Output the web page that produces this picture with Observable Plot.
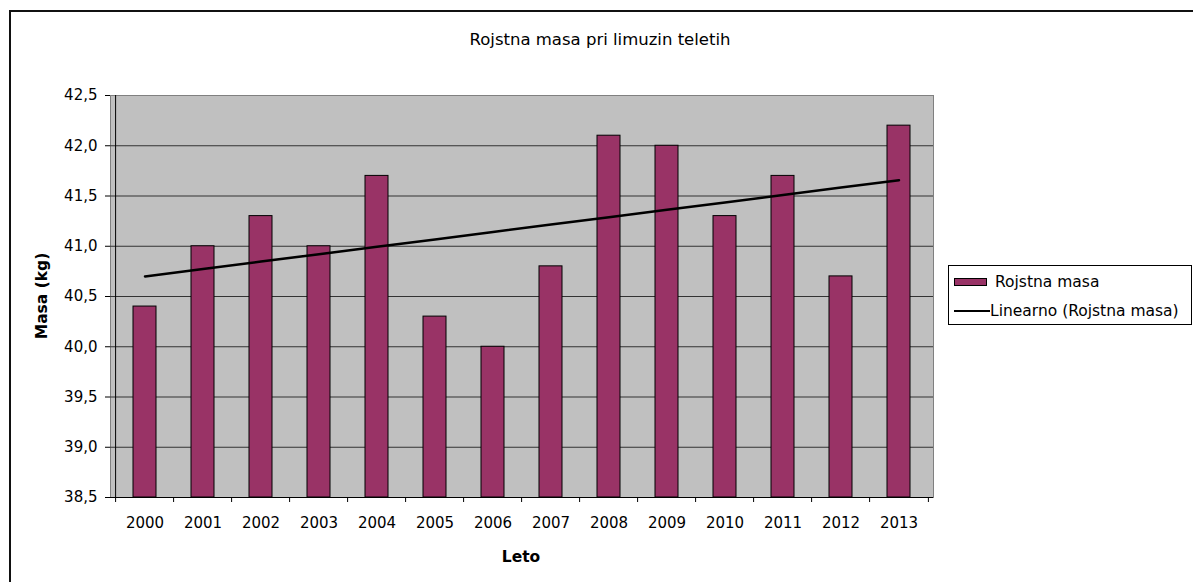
<!DOCTYPE html>
<html><head><meta charset="utf-8">
<script src="https://cdn.jsdelivr.net/npm/d3@7"></script>
<script src="https://cdn.jsdelivr.net/npm/@observablehq/plot@0.6"></script>
<style>
body{margin:0;background:#fff;font-family:"DejaVu Sans",sans-serif;color:#000;}
#wrap{position:relative;width:1193px;height:582px;overflow:hidden;background:#fff;}
#frame{position:absolute;left:9px;top:10px;width:1400px;height:800px;border-left:2px solid #111;border-top:2px solid #111;box-sizing:border-box;}
#chart{position:absolute;left:0;top:0;}
#title{position:absolute;left:0;width:1200px;top:30px;text-align:center;font-size:16.5px;}
#ytitle{position:absolute;left:42px;top:296px;transform:translate(-50%,-50%) rotate(-90deg);font-size:15.5px;font-weight:bold;white-space:nowrap;}
#xtitle{position:absolute;left:521px;top:557px;transform:translate(-50%,-50%);font-size:15.5px;font-weight:bold;}
#legend{position:absolute;left:948px;top:265px;width:244px;height:60px;border:1px solid #000;background:#fff;box-sizing:border-box;font-size:15.5px;}
.row{position:absolute;left:0;height:20px;line-height:20px;white-space:nowrap;}
.sw{position:absolute;left:5px;top:6px;width:33px;height:8px;box-sizing:border-box;border:1px solid #000;}
.ln{position:absolute;left:5px;top:9px;width:36px;height:2px;background:#000;}
.lab{position:absolute;left:46px;top:0;}
</style></head>
<body>
<div id="wrap">
  <div id="frame"></div>
  <div id="chart"></div>
  <div id="title"></div>
  <div id="ytitle"></div>
  <div id="xtitle"></div>
  <div id="legend"></div>
</div>
<script>
const title = "Rojstna masa pri limuzin teletih";
const yTitle = "Masa (kg)";
const xTitle = "Leto";
const seriesName = "Rojstna masa";
const trendName = "Linearno (Rojstna masa)";
const years = ["2000","2001","2002","2003","2004","2005","2006","2007","2008","2009","2010","2011","2012","2013"];
const masses = [40.4, 41.0, 41.3, 41.0, 41.7, 40.3, 40.0, 40.8, 42.1, 42.0, 41.3, 41.7, 40.7, 42.2];
const yTicks = [38.5, 39.0, 39.5, 40.0, 40.5, 41.0, 41.5, 42.0, 42.5];
const barColor = "#993366";

const data = years.map((y, i) => ({year: y, mass: masses[i]}));
// linear trend (least squares over category index)
const n = masses.length;
const mx = (n - 1) / 2;
const my = d3.mean(masses);
let sxy = 0, sxx = 0;
masses.forEach((v, i) => { sxy += (i - mx) * (v - my); sxx += (i - mx) * (i - mx); });
const slope = sxy / sxx, icpt = my - slope * mx;
const trend = years.map((y, i) => ({year: y, value: icpt + slope * i}));

const W = 1193, H = 582, mL = 110, mR = 260, mT = 95, mB = 85;
const step = (W - mL - mR) / years.length;
const plotH = H - mT - mB;
const fmt = d => d.toFixed(1).replace(".", ",");

const chart = Plot.plot({
  width: W, height: H,
  marginLeft: mL, marginRight: mR, marginTop: mT, marginBottom: mB,
  style: {fontFamily: "DejaVu Sans, sans-serif", fontSize: "15px", color: "#000", background: "transparent", overflow: "visible"},
  x: {type: "band", domain: years, paddingInner: 0.6, paddingOuter: 0.3, label: null, tickSize: 0, tickPadding: 20},
  y: {domain: [yTicks[0], yTicks[yTicks.length - 1]], ticks: yTicks, tickFormat: fmt, tickSize: 5, tickPadding: 8, label: null},
  marks: [
    Plot.frame({fill: "#c0c0c0", stroke: "#808080"}),
    Plot.ruleY(yTicks.slice(1, -1), {stroke: "#333", strokeWidth: 1}),
    Plot.barY(data, {x: "year", y1: yTicks[0], y2: "mass", fill: barColor, stroke: "#000", strokeWidth: 1}),
    Plot.line(trend, {x: "year", y: "value", stroke: "#000", strokeWidth: 2.5}),
    Plot.ruleY([yTicks[0]], {stroke: "#000"}),
    Plot.ruleX([years[0]], {dx: -step / 2, stroke: "#000"}),
    Plot.ruleX(years, {dx: -step / 2, insetTop: plotH, insetBottom: -5, stroke: "#000"}),
    Plot.ruleX([years[years.length - 1]], {dx: step / 2, insetTop: plotH, insetBottom: -5, stroke: "#000"})
  ]
});
document.getElementById("chart").appendChild(chart);
document.getElementById("title").textContent = title;
document.getElementById("ytitle").textContent = yTitle;
document.getElementById("xtitle").textContent = xTitle;
const lg = document.getElementById("legend");
lg.innerHTML = `<div class="row" style="top:6px"><div class="sw" style="background:${barColor}"></div><div class="lab">${seriesName}</div></div>
<div class="row" style="top:35px"><div class="ln"></div><div class="lab" style="left:41px">${trendName}</div></div>`;
</script>
</body></html>
